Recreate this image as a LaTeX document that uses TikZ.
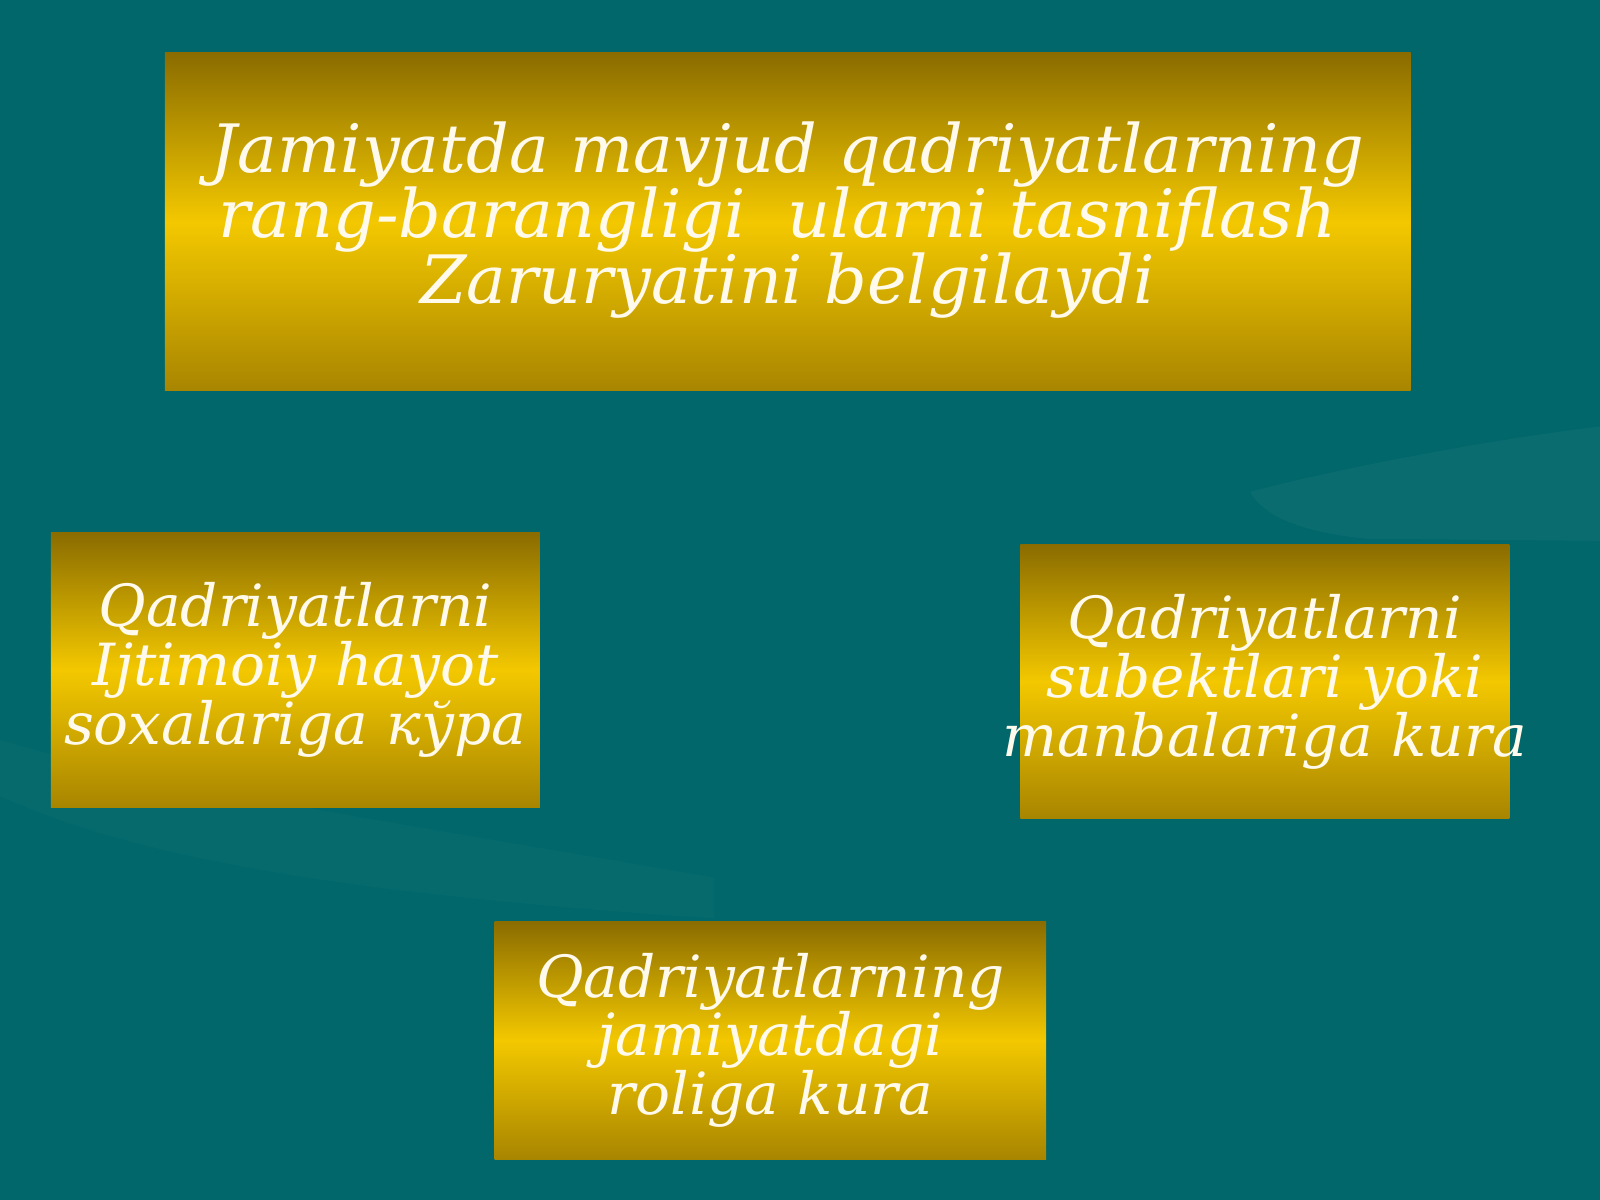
\documentclass[tikz,border=0pt]{standalone}
\usepackage{fontspec}
\setmainfont{DejaVu Serif}
\definecolor{tealbg}{HTML}{01676A}
\definecolor{goldtop}{HTML}{8A6C00}
\definecolor{goldmid}{HTML}{F3C800}
\definecolor{goldbot}{HTML}{A88500}
\definecolor{creamtext}{HTML}{FFFAEC}

\begin{document}
\lineskiplimit=-30pt
\begin{tikzpicture}[x=0.01cm,y=-0.01cm,
  goldbox/.style={draw=none,top color=goldtop,bottom color=goldbot,middle color=goldmid,
    inner sep=0pt},
  boxtext/.style={inner sep=0pt,text=creamtext,align=center},
  bigtext/.style={boxtext,font=\fontsize{18.6}{18.3}\selectfont\itshape},
  smalltext/.style={boxtext,font=\fontsize{16.2}{16.4}\selectfont\itshape}]
% background
\fill[tealbg] (0,0) rectangle (1568,1176);
\useasboundingbox (0,0) rectangle (1568,1176);
\fill[white,opacity=0.04] (1225,482) .. controls (1300,462) and (1450,432) .. (1568,418)
  -- (1568,530) -- (1340,528) .. controls (1280,522) and (1240,508) .. (1225,482);
\fill[white,opacity=0.025] (0,725) .. controls (150,770) and (350,800) .. (700,860)
  -- (700,900) .. controls (400,880) and (150,850) .. (0,780) -- cycle;
% boxes
\node[goldbox,minimum width=12.20cm,minimum height=3.31cm] (root) at (772,217.5) {};
\node[bigtext] (roottext) at ([yshift=0.02cm]root.center)
  {Jamiyatda mavjud qadriyatlarning\\ rang-barangligi\ \ ularni tasniflash\hspace*{0.2cm}\mbox{}\\ Zaruryatini belgilaydi};
\node[goldbox,minimum width=4.79cm,minimum height=2.69cm] (sphere) at (289.5,656.5) {};
\node[smalltext] (spheretext) at (sphere.center)
  {Qadriyatlarni\\ Ijtimoiy hayot\\ soxalariga кўра};
\node[goldbox,minimum width=4.79cm,minimum height=2.68cm] (subject) at (1239.5,668) {};
\node[smalltext] (subjecttext) at (subject.center)
  {Qadriyatlarni\\ subektlari yoki\\ manbalariga kura};
\node[goldbox,minimum width=5.40cm,minimum height=2.33cm] (role) at (755,1019.5) {};
\node[smalltext] (roletext) at (role.center)
  {Qadriyatlarning\\ jamiyatdagi\\ roliga kura};
\end{tikzpicture}
\end{document}
